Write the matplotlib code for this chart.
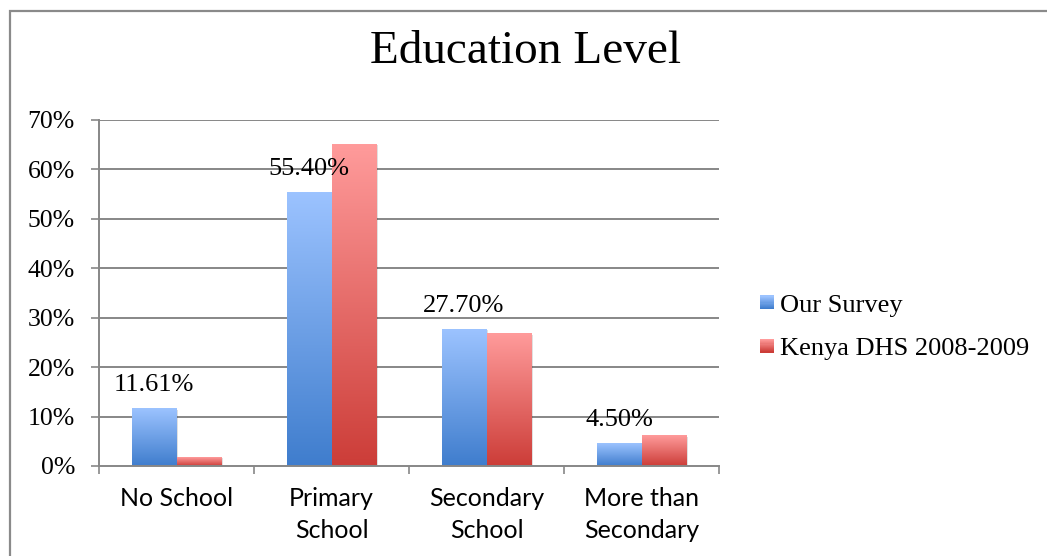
import numpy as np
import matplotlib
matplotlib.use("Agg")
import matplotlib.pyplot as plt
from matplotlib.patches import Rectangle
from matplotlib.colors import LinearSegmentedColormap
from matplotlib.legend_handler import HandlerBase

categories = ["No School", "Primary\nSchool", "Secondary\nSchool", "More than\nSecondary"]
series_names = ["Our Survey", "Kenya DHS 2008-2009"]
our_survey = [11.61, 55.40, 27.70, 4.50]
kenya_dhs = [1.8, 65.1, 26.8, 6.1]
value_labels = ["11.61%", "55.40%", "27.70%", "4.50%"]
y_ticks = [0, 10, 20, 30, 40, 50, 60, 70]

SERIF = ["Liberation Serif", "DejaVu Serif"]
SANS = ["Lato", "DejaVu Sans"]
GRID = "#878787"

# top colour -> bottom colour for each series
blue = ("#9cc3ff", "#3f7dcd")
red = ("#ff9b9b", "#cc3d38")
cmaps = [LinearSegmentedColormap.from_list("b", [blue[1], blue[0]]),
         LinearSegmentedColormap.from_list("r", [red[1], red[0]])]

fig = plt.figure(figsize=(10.47, 5.56), dpi=100)
ax = fig.add_axes([99 / 1047, 1 - 466 / 556, 620 / 1047, 346 / 556])

# outer chart frame (only left and top edges fall inside the image)
fig.patches.append(Rectangle((10 / 1047, -0.1), 1.2, 1 - 11 / 556 + 0.1,
                             transform=fig.transFigure, fill=False,
                             edgecolor="#8a8a8a", lw=1.6))

x = np.arange(len(categories))
width = 0.29
grad = np.linspace(0, 1, 256).reshape(-1, 1)

for ax_y in y_ticks[1:]:
    ax.axhline(ax_y, color=GRID, lw=1.4, zorder=1)

for i, (values, cmap) in enumerate(zip([our_survey, kenya_dhs], cmaps)):
    offset = -width / 2 if i == 0 else width / 2
    for xi, v in zip(x, values):
        x0 = xi + offset - width / 2
        # soft drop shadow
        ax.add_patch(Rectangle((x0 + 0.012, -0.25), width, v, facecolor="#000000",
                               alpha=0.12, lw=0, zorder=2))
        ax.imshow(grad, extent=[x0, x0 + width, 0, v], origin="lower",
                  cmap=cmap, aspect="auto", zorder=3, interpolation="bilinear")

for xi, v, lab in zip(x, our_survey, value_labels):
    ax.annotate(lab, (xi - width / 2, v), xytext=(0, 12.6), textcoords="offset points",
                ha="center", va="baseline", fontsize=19, family=SERIF, zorder=5)

ax.set_xlim(-0.5, len(categories) - 0.5)
ax.set_ylim(0, 70)

ax.set_yticks(y_ticks)
ax.set_yticklabels([f"{t}%" for t in y_ticks], family=SERIF, fontsize=18.5)
ax.tick_params(axis="y", length=5.8, width=1.2, color=GRID, pad=11.5)

ax.set_xticks(x)
ax.set_xticklabels(categories, family=SANS, fontsize=18, linespacing=1.5)
ax.tick_params(axis="x", which="major", length=0, pad=15)
ax.set_xticks(np.arange(len(categories) + 1) - 0.5, minor=True)
ax.tick_params(axis="x", which="minor", length=5.8, width=1.2, color=GRID)

for s in ["top", "right"]:
    ax.spines[s].set_visible(False)
for s in ["left", "bottom"]:
    ax.spines[s].set_color(GRID)
    ax.spines[s].set_linewidth(1.4)
    ax.spines[s].set_zorder(4)


class GradientHandler(HandlerBase):
    def __init__(self, top, bottom):
        super().__init__()
        self.cmap = LinearSegmentedColormap.from_list("h", [bottom, top])

    def create_artists(self, legend, orig_handle, xdescent, ydescent, width, height,
                       fontsize, trans):
        side = 10
        y0 = -ydescent + (height - side) / 2
        x0 = -xdescent + width - side
        n = 12
        arts = []
        for k in range(n):
            r = Rectangle((x0, y0 + side * k / n), side, side / n + 0.05,
                          facecolor=self.cmap(k / (n - 1)), lw=0, transform=trans)
            arts.append(r)
        return arts


h1 = Rectangle((0, 0), 1, 1)
h2 = Rectangle((0, 0), 1, 1)
fig.legend([h1, h2], series_names, loc="upper left",
           bbox_to_anchor=(742 / 1047, 1 - 280 / 556), frameon=False,
           prop={"family": SERIF, "size": 19}, handlelength=0.7, handletextpad=0.25,
           labelspacing=0.75, borderpad=0,
           handler_map={h1: GradientHandler(*blue), h2: GradientHandler(*red)})

fig.text(526 / 1047, 1 - 63 / 556, "Education Level", ha="center", va="baseline",
         fontsize=34, family=SERIF)

fig.savefig("out.png", dpi=100)
